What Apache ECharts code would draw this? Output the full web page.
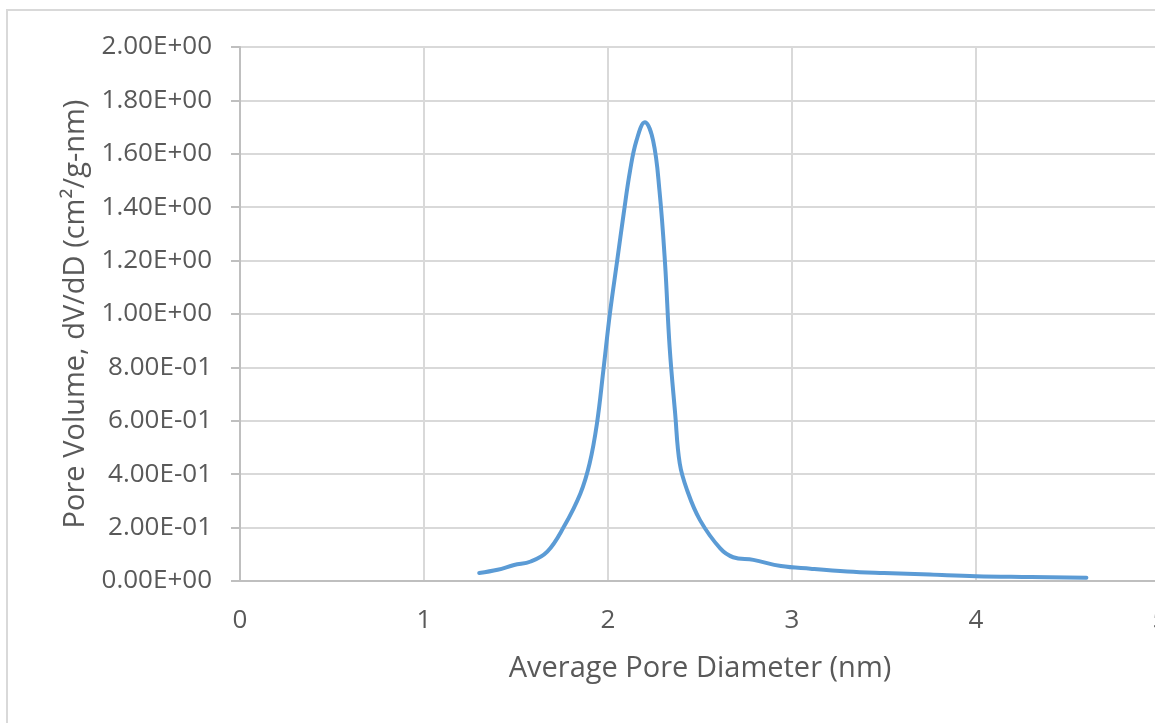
<!DOCTYPE html>
<html>
<head>
<meta charset="utf-8">
<script src="https://cdn.jsdelivr.net/npm/echarts@6/dist/echarts.min.js"></script>
<style>
html,body{margin:0;padding:0;background:#fff;}
#chart{width:1155px;height:723px;}
</style>
</head>
<body>
<div id="chart"></div>
<script>
// Pore diameter (nm)
const diameters = [1.30, 1.40, 1.49, 1.58, 1.67, 1.76, 1.85, 1.90, 1.94, 1.975, 2.01, 2.05, 2.085, 2.12, 2.155, 2.20, 2.245, 2.28, 2.31, 2.335, 2.365, 2.39, 2.43, 2.50, 2.61, 2.68, 2.79, 2.94, 3.10, 3.30, 3.50, 3.75, 4.00, 4.30, 4.60];
// dV/dD (cm3/g-nm)
const poreVolume = [0.030, 0.042, 0.060, 0.073, 0.110, 0.203, 0.328, 0.440, 0.590, 0.790, 1.000, 1.200, 1.375, 1.537, 1.650, 1.718, 1.650, 1.460, 1.190, 0.876, 0.627, 0.440, 0.340, 0.228, 0.122, 0.089, 0.079, 0.056, 0.046, 0.036, 0.030, 0.024, 0.018, 0.015, 0.012];
const yTickLabels = ['0.00E+00','2.00E-01','4.00E-01','6.00E-01','8.00E-01','1.00E+00','1.20E+00','1.40E+00','1.60E+00','1.80E+00','2.00E+00'];
const xTickLabels = ['0','1','2','3','4','5'];

const chart = echarts.init(document.getElementById('chart'), null, {renderer:'canvas'});
const txt = '#595959';
const font = 'Open Sans';
chart.setOption({
  animation:false,
  backgroundColor:'#fff',
  graphic:[{type:'rect', z:-1, shape:{x:7,y:10,width:1300,height:900}, style:{fill:'none', stroke:'#d9d9d9', lineWidth:2}}],
  grid:{left:240, top:47, width:920, height:534, containLabel:false, outerBoundsMode:'none'},
  xAxis:{
    type:'value', min:0, max:5, interval:1,
    name:'Average Pore Diameter (nm)', nameLocation:'middle', nameGap:73,
    nameTextStyle:{color:txt, fontSize:29, fontFamily:font},
    axisLine:{show:true, lineStyle:{color:'#bfbfbf', width:2}},
    axisTick:{show:false},
    axisLabel:{color:txt, fontSize:26, fontFamily:font, margin:27, formatter:(v)=>xTickLabels[Math.round(v)]},
    splitLine:{show:true, lineStyle:{color:'#d9d9d9', width:2}}
  },
  yAxis:{
    type:'value', min:0, max:2, interval:0.2,
    name:'Pore Volume, dV/dD (cm²/g-nm)', nameLocation:'middle', nameGap:150, nameRotate:90,
    nameTextStyle:{color:txt, fontSize:29, fontFamily:font},
    axisLine:{show:true, lineStyle:{color:'#bfbfbf', width:2}},
    axisTick:{show:true, inside:false, length:9, lineStyle:{color:'#bfbfbf', width:2}},
    axisLabel:{color:txt, fontSize:26, fontFamily:font, margin:28, formatter:(v)=>yTickLabels[Math.round(v/0.2)]},
    splitLine:{show:true, lineStyle:{color:'#d9d9d9', width:2}}
  },
  series:[{
    type:'line', smooth:0.4, showSymbol:false,
    data: diameters.map((d,i)=>[d, poreVolume[i]]),
    lineStyle:{color:'#5b9bd5', width:4, cap:'round', join:'round'},
    itemStyle:{color:'#5b9bd5'}
  }]
});
</script>
</body>
</html>
